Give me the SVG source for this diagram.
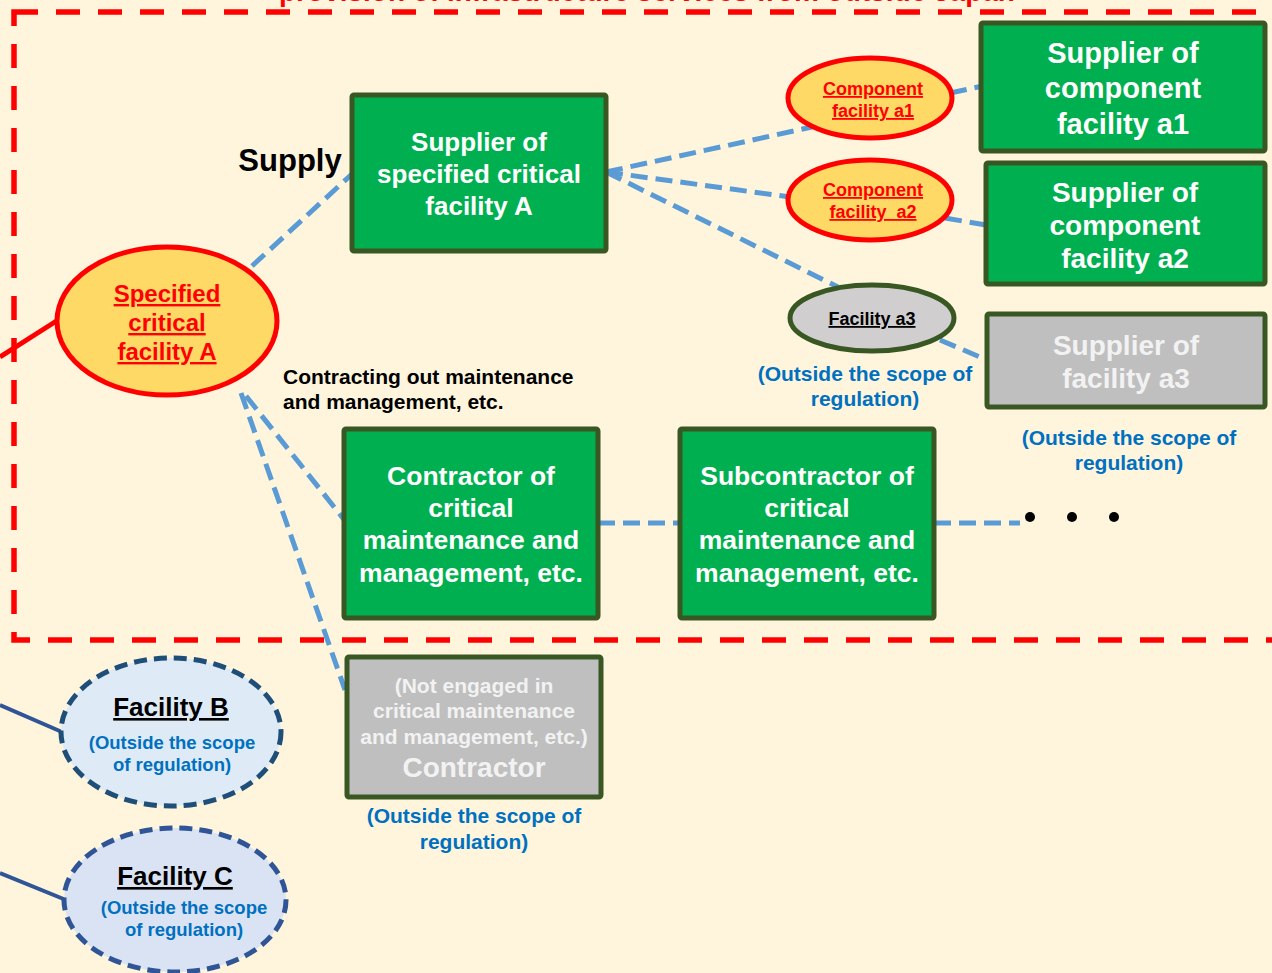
<svg xmlns="http://www.w3.org/2000/svg" width="1272" height="973" viewBox="0 0 1272 973">
<style>
text{font-family:"Liberation Sans",Arial,sans-serif;font-weight:bold;text-anchor:middle}
.gbox{fill:#00B050;stroke:#385723;stroke-width:5}
.grey{fill:#BFBFBF;stroke:#385723;stroke-width:5}
.wt{fill:#FFFFFF}
.lt{fill:#F2F2F2}
.red{fill:#FF0000;text-decoration:underline}
.blue{fill:#0070C0}
.conn{stroke:#5B9BD5;stroke-width:5;stroke-dasharray:17 8;fill:none}
.redell{fill:#FFD966;stroke:#FF0000;stroke-width:5}
</style>
<rect x="0" y="0" width="1272" height="973" fill="#FFF5DC"/>
<g id="title"><text x="647" y="1" font-size="28" fill="#FF0000">provision of infrastructure services from outside Japan</text></g>
<g id="boundary"><rect x="14" y="12" width="1290" height="628" fill="none" stroke="#FF0000" stroke-width="5.5" stroke-dasharray="24 18"/></g>
<g id="connectors">
<line x1="0" y1="357" x2="58" y2="320" stroke="#FF0000" stroke-width="5"/>
<line x1="0" y1="705" x2="62" y2="732" stroke="#2F5597" stroke-width="4"/>
<line x1="0" y1="873" x2="66" y2="900" stroke="#2F5597" stroke-width="4"/>
<line class="conn" x1="252" y1="266" x2="352" y2="174"/>
<line class="conn" x1="606" y1="172" x2="812" y2="127"/>
<line class="conn" x1="606" y1="172" x2="790" y2="197"/>
<line class="conn" x1="606" y1="172" x2="838" y2="287"/>
<line class="conn" x1="950" y1="93" x2="983" y2="86"/>
<line class="conn" x1="945" y1="218" x2="986" y2="225"/>
<line class="conn" x1="940" y1="340" x2="987" y2="360"/>
<line class="conn" x1="246" y1="396" x2="346" y2="522"/>
<line class="conn" x1="241" y1="393" x2="345" y2="690"/>
<line class="conn" x1="598" y1="523" x2="680" y2="523"/>
<line class="conn" x1="934" y1="523" x2="1020" y2="523"/>
</g>
<g id="dots" fill="#000000"><circle cx="1030" cy="517" r="5"/><circle cx="1072" cy="517" r="5"/><circle cx="1114" cy="517" r="5"/></g>
<g id="facilityA">
<ellipse class="redell" cx="167" cy="321" rx="110" ry="74"/>
<text class="red" font-size="24"><tspan x="167" y="302">Specified</tspan><tspan x="167" y="331">critical</tspan><tspan x="167" y="360">facility A</tspan></text>
</g>
<g id="supplyLabel"><text x="290" y="171" font-size="31" fill="#000000">Supply</text></g>
<g id="supplierA">
<rect class="gbox" x="352" y="95" width="254" height="156" rx="2"/>
<text class="wt" font-size="26"><tspan x="479" y="151">Supplier of</tspan><tspan x="479" y="183">specified critical</tspan><tspan x="479" y="215">facility A</tspan></text>
</g>
<g id="compA1">
<ellipse class="redell" cx="870" cy="98" rx="82" ry="40"/>
<text class="red" font-size="18"><tspan x="873" y="95">Component</tspan><tspan x="873" y="117">facility a1</tspan></text>
</g>
<g id="compA2">
<ellipse class="redell" cx="870" cy="200" rx="82" ry="40"/>
<text class="red" font-size="18"><tspan x="873" y="196">Component</tspan><tspan x="873" y="218" xml:space="preserve">facility  a2</tspan></text>
</g>
<g id="facilityA3">
<ellipse cx="872" cy="318" rx="82" ry="33" fill="#D0CECE" stroke="#385723" stroke-width="5"/>
<text x="872" y="325" font-size="18" fill="#000000" text-decoration="underline">Facility a3</text>
<text class="blue" font-size="21"><tspan x="865" y="381">(Outside the scope of</tspan><tspan x="865" y="406">regulation)</tspan></text>
</g>
<g id="supplierA1">
<rect class="gbox" x="981" y="23" width="284" height="128" rx="2"/>
<text class="wt" font-size="29"><tspan x="1123" y="63">Supplier of</tspan><tspan x="1123" y="98">component</tspan><tspan x="1123" y="134">facility a1</tspan></text>
</g>
<g id="supplierA2">
<rect class="gbox" x="986" y="163" width="279" height="121" rx="2"/>
<text class="wt" font-size="28"><tspan x="1125" y="202">Supplier of</tspan><tspan x="1125" y="235">component</tspan><tspan x="1125" y="268">facility a2</tspan></text>
</g>
<g id="supplierA3">
<rect class="grey" x="987" y="314" width="278" height="93" rx="2"/>
<text class="lt" font-size="28"><tspan x="1126" y="355">Supplier of</tspan><tspan x="1126" y="388">facility a3</tspan></text>
<text class="blue" font-size="21"><tspan x="1129" y="445">(Outside the scope of</tspan><tspan x="1129" y="470">regulation)</tspan></text>
</g>
<g id="contractingLabel">
<text font-size="21" fill="#000000" style="text-anchor:start"><tspan x="283" y="384">Contracting out maintenance</tspan><tspan x="283" y="409">and management, etc.</tspan></text>
</g>
<g id="contractor">
<rect class="gbox" x="344" y="429" width="254" height="189" rx="2"/>
<text class="wt" font-size="26.5"><tspan x="471" y="485">Contractor of</tspan><tspan x="471" y="517">critical</tspan><tspan x="471" y="549">maintenance and</tspan><tspan x="471" y="582">management, etc.</tspan></text>
</g>
<g id="subcontractor">
<rect class="gbox" x="680" y="429" width="254" height="189" rx="2"/>
<text class="wt" font-size="26.5"><tspan x="807" y="485">Subcontractor of</tspan><tspan x="807" y="517">critical</tspan><tspan x="807" y="549">maintenance and</tspan><tspan x="807" y="582">management, etc.</tspan></text>
</g>
<g id="notEngaged">
<rect class="grey" x="347" y="657" width="254" height="140" rx="2"/>
<text class="lt" font-size="21"><tspan x="474" y="693">(Not engaged in</tspan><tspan x="474" y="718">critical maintenance</tspan><tspan x="474" y="744">and management, etc.)</tspan></text>
<text class="lt" x="474" y="777" font-size="28">Contractor</text>
<text class="blue" font-size="21"><tspan x="474" y="823">(Outside the scope of</tspan><tspan x="474" y="849">regulation)</tspan></text>
</g>
<g id="facilityB">
<ellipse cx="171" cy="732" rx="110" ry="74" fill="#DEEBF7" stroke="#1F4E79" stroke-width="5" stroke-dasharray="13 7"/>
<text x="171" y="716" font-size="26" fill="#000000" text-decoration="underline">Facility B</text>
<text class="blue" font-size="18.5"><tspan x="172" y="749">(Outside the scope</tspan><tspan x="172" y="771">of regulation)</tspan></text>
</g>
<g id="facilityC">
<ellipse cx="175" cy="900" rx="111" ry="72" fill="#DAE3F3" stroke="#2F5597" stroke-width="5" stroke-dasharray="13 7"/>
<text x="175" y="885" font-size="26" fill="#000000" text-decoration="underline">Facility C</text>
<text class="blue" font-size="18.5"><tspan x="184" y="914">(Outside the scope</tspan><tspan x="184" y="936">of regulation)</tspan></text>
</g>
</svg>
